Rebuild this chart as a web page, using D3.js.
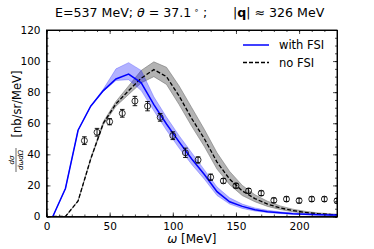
<!DOCTYPE html>
<html>
<head>
<meta charset="utf-8">
<script src="https://cdn.jsdelivr.net/npm/d3@7"></script>
<style>
  body { margin: 0; background: #fff; }
  svg { font-family: "DejaVu Sans", sans-serif; }
</style>
</head>
<body>
<div id="chart"></div>
<script>
// model curves (omega in MeV)
var omega = [5, 15, 25, 35, 45, 55, 65, 75, 85, 95, 105, 115, 125, 135, 145, 155, 165, 175, 185, 195, 205, 215, 225, 235];
var withFSI = [0, 18, 55.5, 71, 81, 88.5, 91.6, 86, 72, 59.5, 48, 37, 27, 16, 9.5, 6.5, 4.3, 3.1, 2.4, 1.8, 1.5, 1.2, 1.0, 0.9];
var withFSILow = [0, 18, 55.5, 71, 80.5, 87.5, 88, 81, 68, 55.5, 44, 33.5, 24, 13.5, 8, 5.2, 3.5, 2.5, 1.9, 1.4, 1.1, 0.9, 0.8, 0.7];
var withFSIHigh = [0, 18, 55.5, 71, 82, 95, 99, 94, 77, 64, 52, 41, 30, 19, 12, 8, 5.5, 4, 3, 2.3, 1.8, 1.5, 1.2, 1.1];
var noFSI = [0, 0, 10, 37, 60, 72.5, 81, 89, 94.5, 90, 77.5, 63, 50, 35, 24, 16.5, 11.5, 8, 5.5, 3.8, 2.6, 1.8, 1.3, 1.0];
var noFSILow = [0, 0, 10, 36.5, 59, 71, 78.5, 86, 90, 85, 72, 58, 45, 30.5, 20.5, 13.5, 9.5, 6.5, 4.5, 3.1, 2.1, 1.5, 1.0, 0.8];
var noFSIHigh = [0, 0, 10, 37.5, 61, 74, 84, 94, 99.5, 96, 84, 70, 56, 41, 29, 20, 14, 9.8, 6.8, 4.7, 3.3, 2.3, 1.7, 1.3];

// experimental points
var expOmega = [30, 40, 50, 60, 70, 80, 90, 100, 110, 120, 130, 140, 150, 160, 170, 180, 190, 200, 210, 220, 230];
var expXsec = [48.8, 54.2, 61, 66.4, 74.3, 71, 63.8, 52, 41, 36.4, 25.3, 22.9, 19.8, 16.5, 15, 10.4, 11.2, 10.2, 11.2, 11.2, 10.1];
var expErr = [2.5, 2.5, 2, 2.5, 3, 3, 2.5, 2.5, 3, 2, 2, 1.5, 1.5, 1.5, 1.5, 1.5, 1.5, 1.5, 1.5, 1.5, 1.5];

var xTicks = [0, 50, 100, 150, 200];
var yTicks = [0, 20, 40, 60, 80, 100, 120];

var W = 374, H = 249;
var margin = {left: 46.5, right: 37, top: 30, bottom: 32.5};

var svg = d3.select('#chart').append('svg')
  .attr('width', W)
  .attr('height', H);

var x = d3.scaleLinear().domain([0, 230]).range([margin.left, W - margin.right]);
var y = d3.scaleLinear().domain([0, 120]).range([H - margin.bottom, margin.top]);

svg.append('defs').append('clipPath').attr('id', 'plotclip')
  .append('rect')
  .attr('x', x(0)).attr('y', y(120))
  .attr('width', x(230) - x(0)).attr('height', y(0) - y(120));

var plot = svg.append('g').attr('clip-path', 'url(#plotclip)');

var band = function(lo, hi) {
  return d3.area()
    .x(function(d, i) { return x(omega[i]); })
    .y0(function(d, i) { return y(lo[i]); })
    .y1(function(d, i) { return y(hi[i]); });
};
var line = function(vals) {
  return d3.line()
    .x(function(d, i) { return x(omega[i]); })
    .y(function(d, i) { return y(vals[i]); });
};

// uncertainty bands
plot.append('path')
  .attr('d', band(noFSILow, noFSIHigh)(omega))
  .attr('fill', '#808080').attr('fill-opacity', 0.6)
  .attr('stroke', '#707070').attr('stroke-opacity', 0.7).attr('stroke-width', 0.8);
plot.append('path')
  .attr('d', band(withFSILow, withFSIHigh)(omega))
  .attr('fill', '#0000ff').attr('fill-opacity', 0.3)
  .attr('stroke', '#0000ff').attr('stroke-opacity', 0.3).attr('stroke-width', 0.8);

// curves
plot.append('path')
  .attr('d', line(noFSI)(omega))
  .attr('fill', 'none').attr('stroke', '#000')
  .attr('stroke-width', 1.3).attr('stroke-dasharray', '4,2');
plot.append('path')
  .attr('d', line(withFSI)(omega))
  .attr('fill', 'none').attr('stroke', '#0000ff')
  .attr('stroke-width', 1.5);

// data with error bars
var pts = plot.selectAll('g.pt')
  .data(expOmega)
  .enter()
  .append('g')
  .attr('class', 'pt')
  .attr('transform', function(d, i) { return 'translate(' + x(d) + ',' + y(expXsec[i]) + ')'; });
pts.append('line')
  .attr('x1', 0).attr('x2', 0)
  .attr('y1', function(d, i) { return y(expXsec[i] + expErr[i]) - y(expXsec[i]); })
  .attr('y2', function(d, i) { return y(expXsec[i] - expErr[i]) - y(expXsec[i]); })
  .attr('stroke', '#000').attr('stroke-width', 0.9);
[1, -1].forEach(function(s) {
  pts.append('line')
    .attr('x1', -2.3).attr('x2', 2.3)
    .attr('y1', function(d, i) { return y(expXsec[i] + s * expErr[i]) - y(expXsec[i]); })
    .attr('y2', function(d, i) { return y(expXsec[i] + s * expErr[i]) - y(expXsec[i]); })
    .attr('stroke', '#000').attr('stroke-width', 0.9);
});
pts.append('circle')
  .attr('r', 3)
  .attr('fill', 'none')
  .attr('stroke', '#000').attr('stroke-width', 0.8);

// axes: inward ticks on all four sides
var xMinor = d3.range(0, 231, 10);
var yMinor = d3.range(0, 121, 5);

svg.append('g').attr('transform', 'translate(0,' + y(0) + ')')
  .call(d3.axisBottom(x).tickValues(xTicks).tickSizeInner(-4).tickSizeOuter(0).tickPadding(6));
svg.append('g').attr('transform', 'translate(0,' + y(120) + ')')
  .call(d3.axisTop(x).tickValues(xTicks).tickSizeInner(-4).tickSizeOuter(0).tickFormat(''));
svg.append('g').attr('transform', 'translate(' + x(0) + ',0)')
  .call(d3.axisLeft(y).tickValues(yTicks).tickSizeInner(-4).tickSizeOuter(0).tickPadding(6));
svg.append('g').attr('transform', 'translate(' + x(230) + ',0)')
  .call(d3.axisRight(y).tickValues(yTicks).tickSizeInner(-4).tickSizeOuter(0).tickFormat(''));

svg.append('g').attr('transform', 'translate(0,' + y(0) + ')')
  .call(d3.axisBottom(x).tickValues(xMinor).tickSize(-2).tickFormat(''));
svg.append('g').attr('transform', 'translate(0,' + y(120) + ')')
  .call(d3.axisTop(x).tickValues(xMinor).tickSize(-2).tickFormat(''));
svg.append('g').attr('transform', 'translate(' + x(0) + ',0)')
  .call(d3.axisLeft(y).tickValues(yMinor).tickSize(-2).tickFormat(''));
svg.append('g').attr('transform', 'translate(' + x(230) + ',0)')
  .call(d3.axisRight(y).tickValues(yMinor).tickSize(-2).tickFormat(''));

svg.selectAll('.domain').attr('stroke', '#000').attr('stroke-width', 0.9);
svg.selectAll('.tick line').attr('stroke', '#000').attr('stroke-width', 0.7);
svg.selectAll('.tick text').attr('font-size', 10.5).attr('fill', '#000')
  .attr('font-family', '"DejaVu Sans", sans-serif');

// frame
svg.append('rect')
  .attr('x', x(0)).attr('y', y(120))
  .attr('width', x(230) - x(0)).attr('height', y(0) - y(120))
  .attr('fill', 'none').attr('stroke', '#000').attr('stroke-width', 0.9);

// title
var title = svg.append('text')
  .attr('x', 55).attr('y', 17)
  .attr('font-size', 12.6).attr('fill', '#000');
title.append('tspan').text('E=537 MeV; ');
title.append('tspan').attr('font-style', 'italic').text('θ');
title.append('tspan').text(' = 37.1');
title.append('tspan').attr('font-size', 8).attr('dy', -4).text(' ∘');
title.append('tspan').attr('dy', 4).text(' ;');
title.append('tspan').attr('x', 233).text('|');
title.append('tspan').attr('font-weight', 'bold').text('q');
title.append('tspan').text('| ≈  326 MeV');

// x label
var xl = svg.append('text')
  .attr('x', (x(0) + x(230)) / 2).attr('y', 243)
  .attr('text-anchor', 'middle').attr('font-size', 12).attr('fill', '#000');
xl.append('tspan').attr('font-style', 'italic').text('ω');
xl.append('tspan').text('  [MeV]');

// y label
var yl = svg.append('g').attr('transform', 'translate(21,' + 120 + ') rotate(-90)');
yl.append('text')
  .attr('x', 16).attr('y', 0)
  .attr('text-anchor', 'middle').attr('font-size', 11.5).attr('fill', '#000')
  .text('[nb/sr/MeV]');
var frac = yl.append('g').attr('transform', 'translate(-40,-4)');
frac.append('text').attr('x', 0).attr('y', -3)
  .attr('text-anchor', 'middle').attr('font-size', 7).attr('font-style', 'italic').text('dσ');
frac.append('line').attr('x1', -12).attr('x2', 12).attr('y1', -1).attr('y2', -1)
  .attr('stroke', '#000').attr('stroke-width', 0.6);
frac.append('text').attr('x', 0).attr('y', 6)
  .attr('text-anchor', 'middle').attr('font-size', 7).attr('font-style', 'italic').text('dωdΩ');

// legend
var legendData = [
  {name: 'with FSI', color: '#0000ff', dash: null},
  {name: 'no FSI', color: '#000', dash: '4,2'}
];
var legend = svg.append('g')
  .selectAll('g')
  .data(legendData)
  .enter()
  .append('g')
  .attr('transform', function(d, i) { return 'translate(243,' + (45 + i * 17.5) + ')'; });
legend.append('line')
  .attr('x1', 0).attr('x2', 26).attr('y1', 0).attr('y2', 0)
  .attr('stroke', function(d) { return d.color; })
  .attr('stroke-width', function(d) { return d.dash ? 1.3 : 1.5; })
  .attr('stroke-dasharray', function(d) { return d.dash; });
legend.append('text')
  .attr('x', 36).attr('y', 4)
  .attr('font-size', 11.5).attr('fill', '#000')
  .text(function(d) { return d.name; });
</script>
</body>
</html>
